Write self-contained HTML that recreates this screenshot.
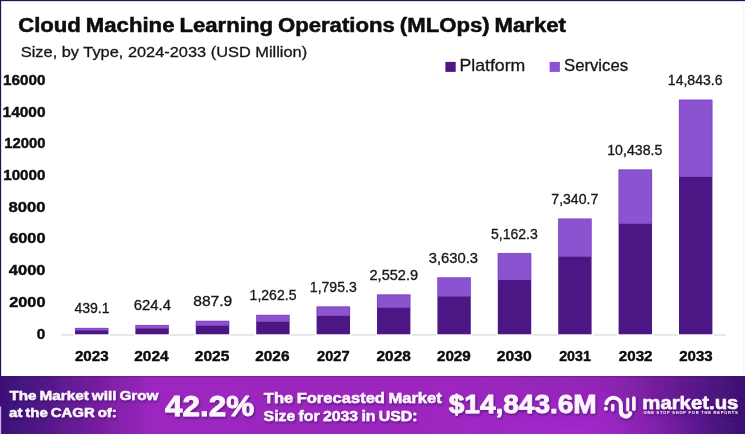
<!DOCTYPE html>
<html lang="en"><head><meta charset="utf-8"><title>Cloud Machine Learning Operations (MLOps) Market</title>
<style>
html,body{margin:0;padding:0;background:#fff;}
body{width:745px;height:434px;overflow:hidden;}
svg{display:block;}
svg text{font-family:"Liberation Sans","DejaVu Sans",sans-serif;}
</style></head><body>
<svg width="745" height="434" viewBox="0 0 745 434" role="img" aria-label="Cloud Machine Learning Operations (MLOps) Market bar chart">
<defs>
<linearGradient id="fg" x1="0" y1="0" x2="1" y2="0"><stop offset="0" stop-color="#3d1177"/><stop offset="0.02" stop-color="#40127a"/><stop offset="0.089" stop-color="#611b92"/><stop offset="0.149" stop-color="#8020a6"/><stop offset="0.209" stop-color="#9d27c1"/><stop offset="0.41" stop-color="#9b28bd"/><stop offset="0.61" stop-color="#9c28bf"/><stop offset="0.81" stop-color="#9224b6"/><stop offset="0.874" stop-color="#761f9e"/><stop offset="0.934" stop-color="#58168a"/><stop offset="0.99" stop-color="#3f1173"/></linearGradient>
<radialGradient id="hl" gradientUnits="userSpaceOnUse" cx="572" cy="442" r="150" gradientTransform="translate(572 442) scale(1 0.36) translate(-572 -442)"><stop offset="0" stop-color="#b52de2" stop-opacity="0.6"/><stop offset="0.5" stop-color="#b02ce0" stop-opacity="0.28"/><stop offset="1" stop-color="#b02ce0" stop-opacity="0"/></radialGradient>
<filter id="soft" x="0" y="0" width="100%" height="100%" filterUnits="userSpaceOnUse"><feGaussianBlur stdDeviation="0.32"/></filter>
<filter id="sh" x="-10%" y="-20%" width="120%" height="150%"><feDropShadow dx="1" dy="1.5" stdDeviation="0.8" flood-color="#2e0a5a" flood-opacity="0.62"/></filter>
</defs>
<rect x="0" y="0" width="745" height="434" fill="#ffffff"/>
<g filter="url(#soft)">
<rect x="-5" y="-5" width="755" height="444" fill="#ffffff"/>
<rect x="0" y="0" width="745" height="1.15" fill="#2b0d5c"/>
<rect x="0" y="0" width="1.15" height="434" fill="#2b0d5c"/>
<rect x="743.3" y="1" width="1" height="375" fill="#f2f2f2"/>
<rect x="445.4" y="61.9" width="10.3" height="10" fill="#4e1885"/>
<rect x="549.6" y="61.9" width="10.3" height="10" fill="#8c52d0"/>
<rect x="61.2" y="334.5" width="664.8" height="1" fill="#d2d2d2"/>
<rect x="73.60" y="326.97" width="36.20" height="9.33" fill="#ffffff"/>
<rect x="75.00" y="327.97" width="33.4" height="2.58" fill="#8c52d0"/>
<rect x="75.00" y="330.25" width="33.4" height="4.05" fill="#4e1885"/>
<path d="M75.25,330.25 V328.22 H108.15 V330.25" fill="none" stroke="#6a38b4" stroke-width="0.5" stroke-opacity="0.8"/>
<rect x="134.00" y="324.04" width="36.20" height="12.26" fill="#ffffff"/>
<rect x="135.40" y="325.04" width="33.4" height="3.55" fill="#8c52d0"/>
<rect x="135.40" y="328.28" width="33.4" height="6.02" fill="#4e1885"/>
<path d="M135.65,328.28 V325.29 H168.55 V328.28" fill="none" stroke="#6a38b4" stroke-width="0.5" stroke-opacity="0.8"/>
<rect x="194.40" y="319.86" width="36.20" height="16.44" fill="#ffffff"/>
<rect x="195.80" y="320.86" width="33.4" height="4.92" fill="#8c52d0"/>
<rect x="195.80" y="325.47" width="33.4" height="8.83" fill="#4e1885"/>
<path d="M196.05,325.47 V321.11 H228.95 V325.47" fill="none" stroke="#6a38b4" stroke-width="0.5" stroke-opacity="0.8"/>
<rect x="254.80" y="313.92" width="36.20" height="22.38" fill="#ffffff"/>
<rect x="256.20" y="314.92" width="33.4" height="6.86" fill="#8c52d0"/>
<rect x="256.20" y="321.49" width="33.4" height="12.81" fill="#4e1885"/>
<path d="M256.45,321.49 V315.17 H289.35 V321.49" fill="none" stroke="#6a38b4" stroke-width="0.5" stroke-opacity="0.8"/>
<rect x="315.20" y="305.48" width="36.20" height="30.82" fill="#ffffff"/>
<rect x="316.60" y="306.48" width="33.4" height="9.63" fill="#8c52d0"/>
<rect x="316.60" y="315.81" width="33.4" height="18.49" fill="#4e1885"/>
<path d="M316.85,315.81 V306.73 H349.75 V315.81" fill="none" stroke="#6a38b4" stroke-width="0.5" stroke-opacity="0.8"/>
<rect x="375.60" y="293.47" width="36.20" height="42.83" fill="#ffffff"/>
<rect x="377.00" y="294.47" width="33.4" height="13.57" fill="#8c52d0"/>
<rect x="377.00" y="307.74" width="33.4" height="26.56" fill="#4e1885"/>
<path d="M377.25,307.74 V294.72 H410.15 V307.74" fill="none" stroke="#6a38b4" stroke-width="0.5" stroke-opacity="0.8"/>
<rect x="436.00" y="276.40" width="36.20" height="59.90" fill="#ffffff"/>
<rect x="437.40" y="277.40" width="33.4" height="19.17" fill="#8c52d0"/>
<rect x="437.40" y="296.27" width="33.4" height="38.03" fill="#4e1885"/>
<path d="M437.65,296.27 V277.65 H470.55 V296.27" fill="none" stroke="#6a38b4" stroke-width="0.5" stroke-opacity="0.8"/>
<rect x="496.40" y="252.12" width="36.20" height="84.18" fill="#ffffff"/>
<rect x="497.80" y="253.12" width="33.4" height="27.13" fill="#8c52d0"/>
<rect x="497.80" y="279.96" width="33.4" height="54.34" fill="#4e1885"/>
<path d="M498.05,279.96 V253.37 H530.95 V279.96" fill="none" stroke="#6a38b4" stroke-width="0.5" stroke-opacity="0.8"/>
<rect x="556.80" y="217.60" width="36.20" height="118.70" fill="#ffffff"/>
<rect x="558.20" y="218.60" width="33.4" height="38.46" fill="#8c52d0"/>
<rect x="558.20" y="256.76" width="33.4" height="77.54" fill="#4e1885"/>
<path d="M558.45,256.76 V218.85 H591.35 V256.76" fill="none" stroke="#6a38b4" stroke-width="0.5" stroke-opacity="0.8"/>
<rect x="617.20" y="168.51" width="36.20" height="167.79" fill="#ffffff"/>
<rect x="618.60" y="169.51" width="33.4" height="54.56" fill="#8c52d0"/>
<rect x="618.60" y="223.77" width="33.4" height="110.53" fill="#4e1885"/>
<path d="M618.85,223.77 V169.76 H651.75 V223.77" fill="none" stroke="#6a38b4" stroke-width="0.5" stroke-opacity="0.8"/>
<rect x="677.60" y="98.70" width="36.20" height="237.60" fill="#ffffff"/>
<rect x="679.00" y="99.70" width="33.4" height="77.45" fill="#8c52d0"/>
<rect x="679.00" y="176.86" width="33.4" height="157.44" fill="#4e1885"/>
<path d="M679.25,176.86 V99.95 H712.15 V176.86" fill="none" stroke="#6a38b4" stroke-width="0.5" stroke-opacity="0.8"/>
<text x="18.15" y="31.80" font-size="19.4" font-weight="bold" fill="#0c0c0c" textLength="547.85" lengthAdjust="spacingAndGlyphs" stroke="#0c0c0c" stroke-width="0.5" word-spacing="-1">Cloud Machine Learning Operations (MLOps) Market</text>
<text x="20.80" y="57.20" font-size="15.4" fill="#161616" textLength="286.36" lengthAdjust="spacingAndGlyphs" stroke="#161616" stroke-width="0.3">Size, by Type, 2024-2033 (USD Million)</text>
<text x="459.45" y="71.20" font-size="15.7" fill="#161616" textLength="65.83" lengthAdjust="spacingAndGlyphs" stroke="#161616" stroke-width="0.3">Platform</text>
<text x="564.10" y="71.20" font-size="15.7" fill="#161616" textLength="63.92" lengthAdjust="spacingAndGlyphs" stroke="#161616" stroke-width="0.3">Services</text>
<text x="3.00" y="84.90" font-size="14.4" font-weight="bold" fill="#0c0c0c" textLength="42.54" lengthAdjust="spacingAndGlyphs" stroke="#0c0c0c" stroke-width="0.4">16000</text>
<text x="2.60" y="116.60" font-size="14.4" font-weight="bold" fill="#0c0c0c" textLength="42.94" lengthAdjust="spacingAndGlyphs" stroke="#0c0c0c" stroke-width="0.4">14000</text>
<text x="4.30" y="148.30" font-size="14.4" font-weight="bold" fill="#0c0c0c" textLength="41.24" lengthAdjust="spacingAndGlyphs" stroke="#0c0c0c" stroke-width="0.4">12000</text>
<text x="3.20" y="180.00" font-size="14.4" font-weight="bold" fill="#0c0c0c" textLength="42.33" lengthAdjust="spacingAndGlyphs" stroke="#0c0c0c" stroke-width="0.4">10000</text>
<text x="8.55" y="211.70" font-size="14.4" font-weight="bold" fill="#0c0c0c" textLength="36.97" lengthAdjust="spacingAndGlyphs" stroke="#0c0c0c" stroke-width="0.4">8000</text>
<text x="9.20" y="243.40" font-size="14.4" font-weight="bold" fill="#0c0c0c" textLength="36.32" lengthAdjust="spacingAndGlyphs" stroke="#0c0c0c" stroke-width="0.4">6000</text>
<text x="8.85" y="275.10" font-size="14.4" font-weight="bold" fill="#0c0c0c" textLength="36.66" lengthAdjust="spacingAndGlyphs" stroke="#0c0c0c" stroke-width="0.4">4000</text>
<text x="9.20" y="306.80" font-size="14.4" font-weight="bold" fill="#0c0c0c" textLength="36.32" lengthAdjust="spacingAndGlyphs" stroke="#0c0c0c" stroke-width="0.4">2000</text>
<text x="36.80" y="338.50" font-size="14.4" font-weight="bold" fill="#0c0c0c" textLength="8.54" lengthAdjust="spacingAndGlyphs" stroke="#0c0c0c" stroke-width="0.4">0</text>
<text x="74.43" y="313.37" font-size="14.2" fill="#161616" textLength="35.16" lengthAdjust="spacingAndGlyphs" stroke="#161616" stroke-width="0.3">439.1</text>
<text x="133.75" y="310.44" font-size="14.2" fill="#161616" textLength="37.27" lengthAdjust="spacingAndGlyphs" stroke="#161616" stroke-width="0.3">624.4</text>
<text x="193.25" y="306.26" font-size="14.2" fill="#161616" textLength="39.03" lengthAdjust="spacingAndGlyphs" stroke="#161616" stroke-width="0.3">887.9</text>
<text x="249.58" y="300.32" font-size="14.2" fill="#161616" textLength="46.87" lengthAdjust="spacingAndGlyphs" stroke="#161616" stroke-width="0.3">1,262.5</text>
<text x="309.83" y="291.88" font-size="14.2" fill="#161616" textLength="46.87" lengthAdjust="spacingAndGlyphs" stroke="#161616" stroke-width="0.3">1,795.3</text>
<text x="369.50" y="279.87" font-size="14.2" fill="#161616" textLength="48.52" lengthAdjust="spacingAndGlyphs" stroke="#161616" stroke-width="0.3">2,552.9</text>
<text x="428.75" y="262.80" font-size="14.2" fill="#161616" textLength="49.27" lengthAdjust="spacingAndGlyphs" stroke="#161616" stroke-width="0.3">3,630.3</text>
<text x="490.95" y="238.52" font-size="14.2" fill="#161616" textLength="46.87" lengthAdjust="spacingAndGlyphs" stroke="#161616" stroke-width="0.3">5,162.3</text>
<text x="551.33" y="204.00" font-size="14.2" fill="#161616" textLength="46.87" lengthAdjust="spacingAndGlyphs" stroke="#161616" stroke-width="0.3">7,340.7</text>
<text x="607.25" y="154.91" font-size="14.2" fill="#161616" textLength="55.04" lengthAdjust="spacingAndGlyphs" stroke="#161616" stroke-width="0.3">10,438.5</text>
<text x="667.85" y="85.10" font-size="14.2" fill="#161616" textLength="54.69" lengthAdjust="spacingAndGlyphs" stroke="#161616" stroke-width="0.3">14,843.6</text>
<text x="74.90" y="361.30" font-size="14.4" font-weight="bold" fill="#0c0c0c" textLength="33.76" lengthAdjust="spacingAndGlyphs" stroke="#0c0c0c" stroke-width="0.4">2023</text>
<text x="134.20" y="361.30" font-size="14.4" font-weight="bold" fill="#0c0c0c" textLength="34.45" lengthAdjust="spacingAndGlyphs" stroke="#0c0c0c" stroke-width="0.4">2024</text>
<text x="194.75" y="361.30" font-size="14.4" font-weight="bold" fill="#0c0c0c" textLength="34.56" lengthAdjust="spacingAndGlyphs" stroke="#0c0c0c" stroke-width="0.4">2025</text>
<text x="255.20" y="361.30" font-size="14.4" font-weight="bold" fill="#0c0c0c" textLength="34.27" lengthAdjust="spacingAndGlyphs" stroke="#0c0c0c" stroke-width="0.4">2026</text>
<text x="317.10" y="361.30" font-size="14.4" font-weight="bold" fill="#0c0c0c" textLength="32.51" lengthAdjust="spacingAndGlyphs" stroke="#0c0c0c" stroke-width="0.4">2027</text>
<text x="376.55" y="361.30" font-size="14.4" font-weight="bold" fill="#0c0c0c" textLength="34.21" lengthAdjust="spacingAndGlyphs" stroke="#0c0c0c" stroke-width="0.4">2028</text>
<text x="436.95" y="361.30" font-size="14.4" font-weight="bold" fill="#0c0c0c" textLength="33.82" lengthAdjust="spacingAndGlyphs" stroke="#0c0c0c" stroke-width="0.4">2029</text>
<text x="496.85" y="361.30" font-size="14.4" font-weight="bold" fill="#0c0c0c" textLength="34.97" lengthAdjust="spacingAndGlyphs" stroke="#0c0c0c" stroke-width="0.4">2030</text>
<text x="559.13" y="361.30" font-size="14.4" font-weight="bold" fill="#0c0c0c" textLength="31.70" lengthAdjust="spacingAndGlyphs" stroke="#0c0c0c" stroke-width="0.4">2031</text>
<text x="618.75" y="361.30" font-size="14.4" font-weight="bold" fill="#0c0c0c" textLength="33.77" lengthAdjust="spacingAndGlyphs" stroke="#0c0c0c" stroke-width="0.4">2032</text>
<text x="679.25" y="361.30" font-size="14.4" font-weight="bold" fill="#0c0c0c" textLength="33.42" lengthAdjust="spacingAndGlyphs" stroke="#0c0c0c" stroke-width="0.4">2033</text>
<rect x="0" y="376.05" width="745" height="57.94999999999999" fill="url(#fg)"/>
<rect x="0" y="376.05" width="745" height="1.1" fill="#14003a" fill-opacity="0.28"/>
<rect x="380" y="377" width="365" height="57" fill="url(#hl)"/>
<rect x="0" y="406.4" width="1.15" height="28" fill="#cbb0ee"/>
<g fill="#fdf4ff" filter="url(#sh)">
<text x="9.40" y="399.90" font-size="13.0" font-weight="bold" fill="#fdf4ff" textLength="149.10" lengthAdjust="spacingAndGlyphs" stroke="#fdf4ff" stroke-width="0.45" stroke-linejoin="round" word-spacing="-1">The Market will Grow</text>
<text x="9.10" y="416.90" font-size="13.0" font-weight="bold" fill="#fdf4ff" textLength="107.67" lengthAdjust="spacingAndGlyphs" stroke="#fdf4ff" stroke-width="0.45" stroke-linejoin="round" word-spacing="-1">at the CAGR of:</text>
<text x="165.00" y="416.00" font-size="29.2" font-weight="bold" fill="#fdf4ff" textLength="89.25" lengthAdjust="spacingAndGlyphs" stroke="#fdf4ff" stroke-width="0.8" stroke-linejoin="round" word-spacing="-1">42.2%</text>
<text x="263.80" y="402.80" font-size="14.2" font-weight="bold" fill="#fdf4ff" textLength="177.95" lengthAdjust="spacingAndGlyphs" stroke="#fdf4ff" stroke-width="0.45" stroke-linejoin="round" word-spacing="-1">The Forecasted Market</text>
<text x="263.60" y="420.90" font-size="14.2" font-weight="bold" fill="#fdf4ff" textLength="153.91" lengthAdjust="spacingAndGlyphs" stroke="#fdf4ff" stroke-width="0.45" stroke-linejoin="round" word-spacing="-1">Size for 2033 in USD:</text>
<text x="448.75" y="412.60" font-size="26.2" font-weight="bold" fill="#fdf4ff" textLength="147.91" lengthAdjust="spacingAndGlyphs" stroke="#fdf4ff" stroke-width="0.8" stroke-linejoin="round" word-spacing="-1">$14,843.6M</text>
<text x="642.30" y="408.60" font-size="17.6" font-weight="bold" fill="#fdf4ff" textLength="96.08" lengthAdjust="spacingAndGlyphs" stroke="#fdf4ff" stroke-width="0.5" stroke-linejoin="round" word-spacing="-1">market.us</text>
<text x="643.60" y="414.40" font-size="4.05" font-weight="bold" fill="#fdf4ff" textLength="94.00" lengthAdjust="spacing">ONE STOP SHOP FOR THE REPORTS</text>
<g fill="none" stroke="#fdf4ff" stroke-linecap="round" stroke-width="4">
<path d="M606.35,403.3 A7.4,7.4 0 0 1 620.9,405.2 V411.6 A4.8,4.8 0 0 0 630.2,413.2"/>
<path d="M612.7,405.3 V409.75" stroke-width="3.3"/>
<path d="M627.7,398.9 V409.9" stroke-width="3"/>
<path d="M633.9,398.1 V409.2" stroke-width="3.6"/>
</g>
<circle cx="605.9" cy="408.8" r="2" />
</g>
</g>
</svg>
</body></html>
